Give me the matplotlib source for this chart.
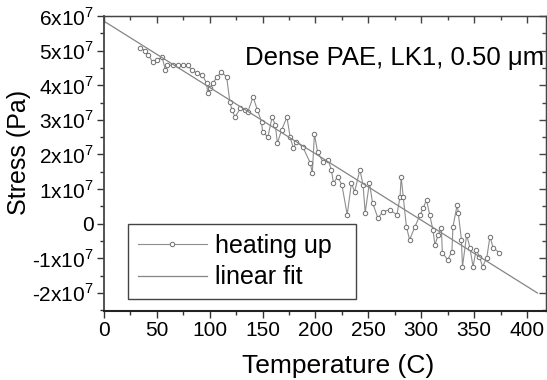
import numpy as np
import matplotlib
matplotlib.use("Agg")
import matplotlib.pyplot as plt
from matplotlib.ticker import MultipleLocator

plt.rcParams["font.family"] = ["Liberation Sans", "DejaVu Sans"]
plt.rcParams["mathtext.fontset"] = "custom"
plt.rcParams["mathtext.rm"] = "Liberation Sans"

# heating up data (temperature in C, stress in units of 1e7 Pa)
temp = [34, 39, 42, 46, 50, 55, 58, 60, 65, 70, 75, 79, 83, 88, 93, 97, 98, 100,
        103, 107, 111, 116, 119, 121, 124, 129, 133, 136, 141, 145, 149, 150, 155,
        159, 162, 164, 168, 173, 176, 179, 182, 188, 195, 197, 199, 202, 207, 212,
        215, 217, 221, 225, 230, 234, 237, 242, 245, 247, 251, 254, 259, 264, 270,
        277, 280, 281, 283, 286, 289, 294, 299, 302, 305, 308, 311, 313, 316, 319,
        320, 325, 329, 330, 334, 335, 338, 339, 343, 346, 349, 352, 355, 358, 362,
        365, 368, 374]
stress = [5.07, 5.00, 4.87, 4.67, 4.73, 4.81, 4.44, 4.58, 4.58, 4.58, 4.58, 4.58,
          4.44, 4.35, 4.30, 4.06, 3.78, 3.92, 4.06, 4.24, 4.38, 4.24, 3.52, 3.29,
          3.08, 3.34, 3.29, 3.23, 3.66, 3.29, 2.94, 2.65, 2.51, 3.08, 2.85, 2.33,
          2.71, 3.08, 2.51, 2.19, 2.36, 2.22, 1.76, 1.47, 2.59, 2.07, 1.79, 1.84,
          1.56, 1.18, 1.35, 1.12, 0.26, 1.18, 0.92, 1.56, 1.12, 0.32, 1.18, 0.60,
          0.17, 0.35, 0.40, 0.26, 0.78, 1.35, 0.78, -0.09, -0.46, -0.09, 0.26, 0.46,
          0.69, 0.26, -0.17, -0.61, -0.32, -0.12, -0.84, -1.04, -0.81, -0.09, 0.55,
          0.32, -0.46, -1.24, -0.32, -0.69, -1.24, -0.75, -0.95, -1.24, -0.98,
          -0.37, -0.69, -0.84]

# linear fit
fit_range = [0, 410]
fit_intercept = 5.85e7
fit_slope = -1.915e5

ytick_vals = [-2, -1, 0, 1, 2, 3, 4, 5, 6]

temp = np.array(temp)
stress = np.array(stress) * 1e7
fit_x = np.array(fit_range)
fit_y = fit_intercept + fit_slope * fit_x


def ylab(v):
    if v == 0:
        return "0"
    return "%dx10$^{7}$" % v


fig = plt.figure(figsize=(5.47, 3.80), dpi=100)
ax = fig.add_axes([104 / 547, 69 / 380, 442 / 547, 295 / 380])

ax.plot(temp, stress, color="#8e8e8e", lw=0.8, marker="o", ms=3.2,
        mfc="white", mec="#6e6e6e", mew=0.7, label="heating up")
ax.plot(fit_x, fit_y, color="#858585", lw=0.9, label="linear fit")

ax.set_xlim(0, 418)
ax.set_ylim(-2.52e7, 6e7)

ax.xaxis.set_major_locator(MultipleLocator(50))
ax.xaxis.set_minor_locator(MultipleLocator(25))
ax.set_yticks([v * 1e7 for v in ytick_vals])
ax.set_yticklabels([ylab(v) for v in ytick_vals])
ax.yaxis.set_minor_locator(MultipleLocator(0.5e7))

ax.tick_params(which="both", direction="out", labelsize=15, color="#333333",
               width=1.0, pad=2)
ax.tick_params(which="major", length=5)
ax.tick_params(which="minor", length=3)

# inward ticks on top and right
top = ax.secondary_xaxis("top")
top.xaxis.set_major_locator(MultipleLocator(50))
top.xaxis.set_minor_locator(MultipleLocator(25))
right = ax.secondary_yaxis("right")
right.set_yticks([v * 1e7 for v in ytick_vals])
right.yaxis.set_minor_locator(MultipleLocator(0.5e7))
for sec in (top, right):
    sec.tick_params(which="both", direction="in", color="#444444", width=1.0,
                    labeltop=False, labelright=False)
    sec.tick_params(which="major", length=5)
    sec.tick_params(which="minor", length=3)
    for sp in sec.spines.values():
        sp.set_color("#444444")

for sp in ax.spines.values():
    sp.set_color("#444444")
    sp.set_linewidth(1.0)
ax.spines["bottom"].set_color("#222222")
ax.spines["bottom"].set_linewidth(1.5)
ax.spines["left"].set_linewidth(1.3)

ax.set_xlabel("Temperature (C)", fontsize=19)
ax.xaxis.set_label_coords(0.529, -0.145)
ax.set_ylabel("Stress (Pa)", fontsize=18)
ax.yaxis.set_label_coords(-0.165, 0.536)

ax.text(0.319, 0.834, "Dense PAE, LK1, 0.50 \u03bcm", transform=ax.transAxes,
        fontsize=18.5, ha="left", va="baseline")

leg = ax.legend(loc="upper left", bbox_to_anchor=(0.054, 0.0, 0.516, 0.295),
                mode="expand", borderaxespad=0, fontsize=18, fancybox=False,
                edgecolor="#444444", framealpha=1, handlelength=2.75,
                handletextpad=0.35, borderpad=0.4, labelspacing=0.3,
                numpoints=1)
leg.get_frame().set_linewidth(1.0)

fig.savefig("out.png", dpi=100)
